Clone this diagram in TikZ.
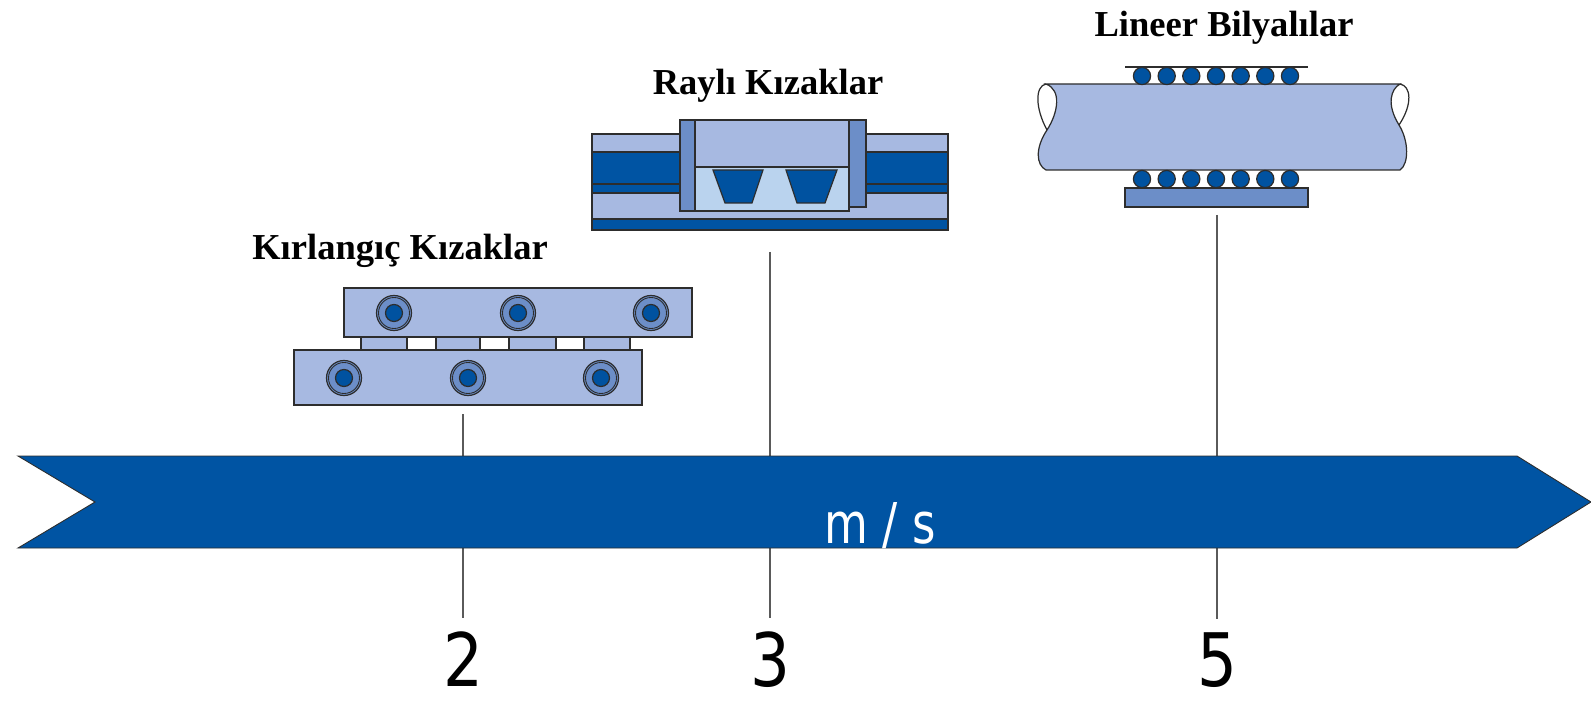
\documentclass[tikz,border=0pt]{standalone}
\usepackage{fontspec}
\setmainfont{Liberation Serif}
\newfontfamily\axisfont{DejaVu Sans}

\definecolor{axisblue}{RGB}{0,84,163}
\definecolor{paleblue}{RGB}{167,185,225}
\definecolor{midblue}{RGB}{108,142,200}
\definecolor{iceblue}{RGB}{186,211,238}
\definecolor{ballblue}{RGB}{0,82,160}
\definecolor{edgegray}{RGB}{45,45,45}
\definecolor{tickgray}{RGB}{90,90,90}

\tikzset{
  part/.style={draw=edgegray, line width=0.7pt},
  tick/.style={draw=tickgray, line width=1pt, shorten >=2.6mm},
  title/.style={font=\fontsize{20.8}{25}\selectfont\bfseries, anchor=base, inner sep=0pt},
  value/.style={font=\axisfont\fontsize{42}{48}\selectfont, anchor=base, inner sep=0pt},
}

\begin{document}
\begin{tikzpicture}[x=0.2mm, y=-0.2mm]
\useasboundingbox (0,0) rectangle (1591,704);

% speed values below the axis
\node[value] (v2) at (463,686) {\scalebox{0.85}[1]{2}};
\node[value] (v3) at (770,686) {\scalebox{0.85}[1]{3}};
\node[value] (v5) at (1217,686) {\scalebox{0.85}[1]{5}};

% ticks from each slide down to its value
\coordinate (t2) at (463,414);
\coordinate (t3) at (770,252);
\coordinate (t5) at (1217,215);
\draw[tick] (t2) -- (v2.north);
\draw[tick] (t3) -- (v3.north);
\draw[tick] (t5) -- (v5.north);

% axis band
\filldraw[part, fill=axisblue, line width=0.5pt] (18,456) -- (1517,456) -- (1591,502) -- (1517,548) -- (18,548) -- (95,502) -- cycle;
\node[font=\axisfont\fontsize{32}{38}\selectfont, text=white, anchor=base, inner sep=0pt] (ms) at (880,543) {\scalebox{0.8}[1]{m / s}};

% dovetail slide
\filldraw[part, fill=paleblue] (344,288) rectangle (692,337); % upper plate
\filldraw[part, fill=paleblue] (361,337) rectangle (407,350); % web 1
\filldraw[part, fill=paleblue] (436,337) rectangle (480,350); % web 2
\filldraw[part, fill=paleblue] (509,337) rectangle (556,350); % web 3
\filldraw[part, fill=paleblue] (584,337) rectangle (630,350); % web 4
\filldraw[part, fill=paleblue] (294,350) rectangle (642,405); % lower plate
\filldraw[part, fill=midblue] (394,313) circle (17.5); \draw[part, line width=0.5pt] (394,313) circle (15.5); \filldraw[part, fill=ballblue] (394,313) circle (8.5);
\filldraw[part, fill=midblue] (518,313) circle (17.5); \draw[part, line width=0.5pt] (518,313) circle (15.5); \filldraw[part, fill=ballblue] (518,313) circle (8.5);
\filldraw[part, fill=midblue] (651,313) circle (17.5); \draw[part, line width=0.5pt] (651,313) circle (15.5); \filldraw[part, fill=ballblue] (651,313) circle (8.5);
\filldraw[part, fill=midblue] (344,378) circle (17.5); \draw[part, line width=0.5pt] (344,378) circle (15.5); \filldraw[part, fill=ballblue] (344,378) circle (8.5);
\filldraw[part, fill=midblue] (468,378) circle (17.5); \draw[part, line width=0.5pt] (468,378) circle (15.5); \filldraw[part, fill=ballblue] (468,378) circle (8.5);
\filldraw[part, fill=midblue] (601,378) circle (17.5); \draw[part, line width=0.5pt] (601,378) circle (15.5); \filldraw[part, fill=ballblue] (601,378) circle (8.5);
\node[title] (kirlangic) at (400,260) {Kırlangıç Kızaklar};

% rail slide
\filldraw[part, fill=paleblue] (592,134) rectangle (948,152); % rail
\filldraw[part, fill=axisblue] (592,152) rectangle (948,184);
\filldraw[part, fill=axisblue] (592,184) rectangle (948,193);
\filldraw[part, fill=paleblue] (592,193) rectangle (948,219);
\filldraw[part, fill=axisblue] (592,219) rectangle (948,230);
\filldraw[part, fill=paleblue] (695,120) rectangle (849,167); % carriage
\filldraw[part, fill=iceblue] (695,167) rectangle (849,211);
\filldraw[part, fill=midblue] (680,120) rectangle (695,211); % end caps
\filldraw[part, fill=midblue] (849,120) rectangle (866,207);
\filldraw[part, fill=ballblue] (713,170) -- (763,170) -- (752,203) -- (725,203) -- cycle; % rollers
\filldraw[part, fill=ballblue] (786,170) -- (837,170) -- (825,203) -- (797,203) -- cycle;
\node[title] (rayli) at (768,95) {Raylı Kızaklar};

% linear ball bushing
\draw[part] (1125,67) -- (1308,67); % outer race
\filldraw[part, fill=paleblue] (1046,84) -- (1400,84)
  .. controls (1391,89) and (1386,104) .. (1399,125)
  .. controls (1409,141) and (1409,164) .. (1400,170)
  -- (1046,170)
  .. controls (1036,165) and (1035,148) .. (1047,130)
  .. controls (1058,113) and (1062,90) .. (1046,84) -- cycle; % shaft
\draw[part] (1046,84) .. controls (1035,86) and (1035,108) .. (1047,130);
\draw[part] (1400,84) .. controls (1411,86) and (1413,104) .. (1399,125);
\filldraw[part, fill=ballblue] (1142,76) circle (8.6);
\filldraw[part, fill=ballblue] (1166.7,76) circle (8.6);
\filldraw[part, fill=ballblue] (1191.3,76) circle (8.6);
\filldraw[part, fill=ballblue] (1216,76) circle (8.6);
\filldraw[part, fill=ballblue] (1240.7,76) circle (8.6);
\filldraw[part, fill=ballblue] (1265.3,76) circle (8.6);
\filldraw[part, fill=ballblue] (1290,76) circle (8.6);
\filldraw[part, fill=ballblue] (1142,179) circle (8.6);
\filldraw[part, fill=ballblue] (1166.7,179) circle (8.6);
\filldraw[part, fill=ballblue] (1191.3,179) circle (8.6);
\filldraw[part, fill=ballblue] (1216,179) circle (8.6);
\filldraw[part, fill=ballblue] (1240.7,179) circle (8.6);
\filldraw[part, fill=ballblue] (1265.3,179) circle (8.6);
\filldraw[part, fill=ballblue] (1290,179) circle (8.6);
\filldraw[part, fill=midblue] (1125,188) rectangle (1308,207); % base plate
\node[title] (lineer) at (1224,37) {Lineer Bilyalılar};

\end{tikzpicture}
\end{document}
